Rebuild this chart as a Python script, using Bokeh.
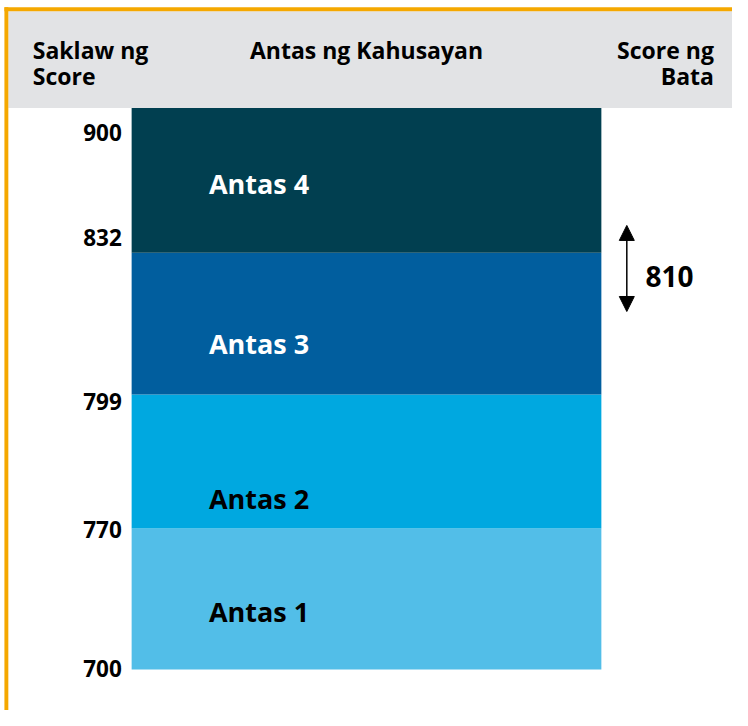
from bokeh.plotting import figure
from bokeh.models import Range1d, ColumnDataSource, Arrow, NormalHead
from bokeh.core.properties import value
from bokeh.embed import file_html
from bokeh.resources import INLINE

# ---------------- data ----------------
levels = ["Antas 1", "Antas 2", "Antas 3", "Antas 4"]
score_bounds = [700, 770, 799, 832, 900]
child_score = 810
header_left = ["Saklaw ng", "Score"]
header_mid = "Antas ng Kahusayan"
header_right = ["Score ng", "Bata"]

# ---------------- layout / style (canvas units 748 x 726) ----------------
W, H = 732, 710            # figure pixels
CW, CH = 748, 726          # canvas units
FONT = value("Open Sans")
band_heights = [144, 137, 145, 148]          # per band, bottom to top
band_bottom = 684
band_left, band_right = 134, 614
band_colors = ["#52BEE8", "#00A8E0", "#015E9E", "#013F50"]
band_text_colors = ["#000000", "#000000", "#FFFFFF", "#FFFFFF"]
band_label_frac = [0.412, 0.228, 0.361, 0.478]   # label baseline from band bottom
tick_baseline_shift = [1.3, -0.7, -7, 15.3, -25]  # baseline shift upward from boundary
header_top, header_bottom = 11, 110
orange = "#F5A800"
gray = "#E2E3E5"

p = figure(width=W, height=H, x_range=Range1d(0, CW), y_range=Range1d(CH, 0),
           output_backend="svg", toolbar_location=None, min_border=0,
           background_fill_color="white", border_fill_color="white")
p.axis.visible = False
p.grid.visible = False
p.outline_line_color = None

# frame and header
p.quad(left=[8], right=[CW], top=[header_top], bottom=[header_bottom],
       fill_color=gray, line_color=None)
p.quad(left=[4], right=[8], top=[7], bottom=[CH], fill_color=orange, line_color=None)
p.quad(left=[4], right=[CW], top=[7], bottom=[header_top], fill_color=orange, line_color=None)

# band geometry
bounds = [band_bottom]
for h in band_heights:
    bounds.append(bounds[-1] - h)
bottoms = bounds[:-1]
tops = bounds[1:]

src = ColumnDataSource(dict(
    level=levels, bottom=bottoms, top=tops,
    left=[band_left] * len(levels), right=[band_right] * len(levels),
    color=band_colors, tcolor=band_text_colors,
    ly=[b - f * h for b, f, h in zip(bottoms, band_label_frac, band_heights)],
    lx=[band_left + 79] * len(levels),
))
p.quad(left="left", right="right", top="top", bottom="bottom", fill_color="color",
       line_color=None, source=src)
p.text(x="lx", y="ly", text="level", text_color="tcolor", text_font=FONT,
       text_font_style="bold", text_font_size="27px", text_baseline="alphabetic",
       text_align="left", source=src)

# score range labels
tick_src = ColumnDataSource(dict(
    x=[band_left - 10] * len(score_bounds),
    y=[b - s for b, s in zip(bounds, tick_baseline_shift)],
    t=[str(s) for s in score_bounds],
))
p.text(x="x", y="y", text="t", text_font=FONT, text_font_style="bold",
       text_font_size="22.5px", text_baseline="alphabetic", text_align="right",
       text_color="#000000", source=tick_src)

# header texts
line_y = [51, 76.7]
p.text(x=[33] * 2, y=line_y, text=header_left, text_font=FONT, text_font_style="bold",
       text_font_size="23px", text_baseline="alphabetic", text_align="left",
       text_color="#000000")
p.text(x=[(band_left + band_right) / 2], y=[line_y[0]], text=[header_mid], text_font=FONT,
       text_font_style="bold", text_font_size="23px", text_baseline="alphabetic",
       text_align="center", text_color="#000000")
p.text(x=[729] * 2, y=line_y, text=header_right, text_font=FONT, text_font_style="bold",
       text_font_size="23px", text_baseline="alphabetic", text_align="right",
       text_color="#000000")

# child score marker
arrow_x = 640
arrow_top, arrow_bottom = 230, 318
head = NormalHead(size=15, fill_color="#000000", line_color="#000000")
head2 = NormalHead(size=15, fill_color="#000000", line_color="#000000")
p.add_layout(Arrow(x_start=arrow_x, y_start=arrow_top, x_end=arrow_x, y_end=arrow_bottom,
                   line_width=1.5, line_color="#000000", start=head, end=head2))
p.text(x=[659], y=[282.3], text=[str(child_score)], text_font=FONT,
       text_font_style="bold", text_font_size="28px", text_baseline="alphabetic",
       text_align="left", text_color="#000000")

open("out.html", "w").write(file_html(p, INLINE))
